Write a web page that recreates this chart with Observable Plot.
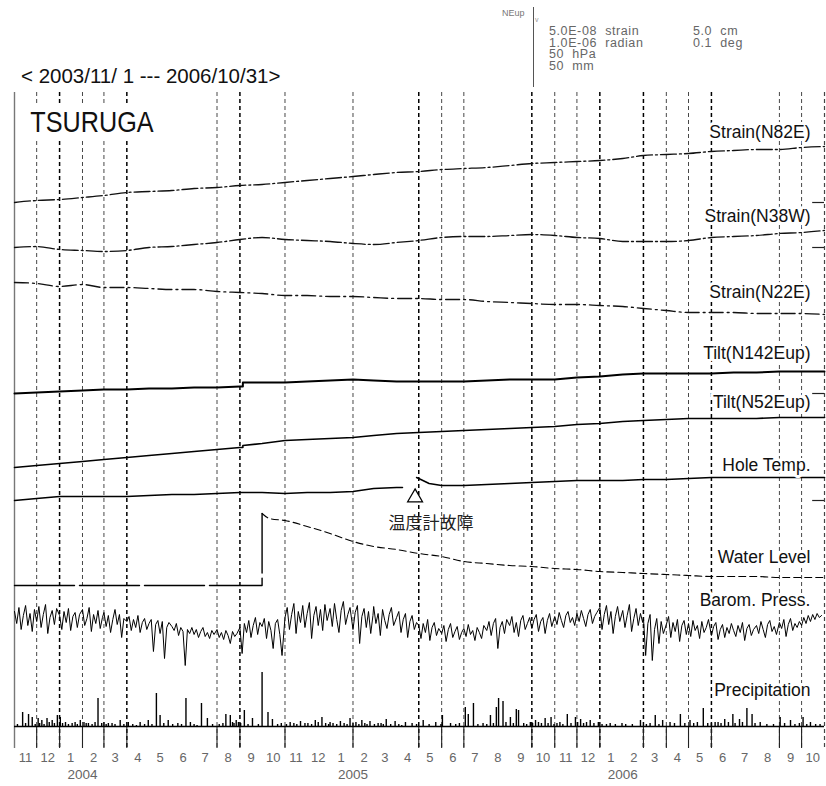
<!DOCTYPE html>
<html><head><meta charset="utf-8">
<script src="https://cdn.jsdelivr.net/npm/d3@7"></script>
<script src="https://cdn.jsdelivr.net/npm/@observablehq/plot@0.6"></script>
<style>
body{margin:0;background:#fff;}
#wrap{position:relative;width:826px;height:786px;overflow:hidden;font-family:"Liberation Sans",Arial,sans-serif;background:#fff;}
#chart svg{position:absolute;left:0;top:0;}
.h{position:absolute;white-space:pre;line-height:1;}
</style></head><body>
<div id="wrap"><div id="chart"></div>
<div class="h" style="left:21px;top:66px;font-size:20.5px;color:#111;">&lt; 2003/11/ 1 --- 2006/10/31&gt;</div>
<div class="h" style="left:27px;top:103px;padding:4px 6px 3px 4px;background:#fff;font-size:30px;color:#111;transform:scaleX(0.84);transform-origin:left top;">TSURUGA</div>
<div class="h" style="left:502px;top:9px;font-size:9px;color:#777;">NEup</div>
<div class="h" style="left:535px;top:16px;font-size:7px;color:#999;">v</div>
<div style="position:absolute;left:533px;top:7px;width:1px;height:80px;background:#555;"></div>
<div class="h" id="leg" style="left:549px;top:26px;font-size:12.5px;color:#666;line-height:11.5px;letter-spacing:0.6px;"></div>
<div class="h" id="leg2" style="left:693px;top:26px;font-size:12.5px;color:#666;line-height:11.5px;letter-spacing:0.6px;"></div>
</div>
<script>
// ---------------- data ----------------
const legendLeft = ["5.0E-08  strain", "1.0E-06  radian", "50  hPa", "50  mm"];
const legendRight = ["5.0  cm", "0.1  deg"];

// strain traces, relative readings at month starts (Nov 2003 ... Nov 2006), up = positive
const strainN82E = [0,2,3,5,7,10,11,12,14,15,17,18,20,22,24,26,28,30,31,33,34,35,37,39,40,41,42,44,47,48,49,51,52,53,53,55,56];
const strainN38W = [0,1,-2,-3,-4,-3,0,1,3,5,8,10,8,7,6,4,3,5,7,10,11,11,12,13,12,10,9,6,6,6,7,10,11,12,14,15,17];
const strainN22E = [0,-1,-4,-2,-5,-5,-6,-7,-7,-9,-10,-11,-13,-13,-14,-14,-15,-16,-16,-17,-17,-19,-20,-21,-22,-22,-23,-24,-26,-28,-30,-30,-30,-31,-31,-31,-32];

// tilt traces (monthly) with an offset on 2004-09-05
const tiltStepDate = "2004-09-05";
const tiltN142 = [0,1,2,3,4,4,5,5,6,6,7,11,11,12,13,14,13,12,12,12,12,13,14,14,14,16,17,19,20,20,20,20,21,21,22,22,22];
const tiltN142Step = [7, 11];
const tiltN52 = [0,2,4,6,8,10,12,14,16,18,20,24,27,28,29,30,32,34,35,36,37,38,39,40,41,43,44,46,47,48,49,49,49,49,50,50,50];
const tiltN52Step = [20, 22];

// hole temperature (thermometer failure in April 2005)
const holeDates = ["2003-11-01","2003-12-01","2004-01-01","2004-02-01","2004-03-01","2004-04-01","2004-05-01","2004-06-01","2004-07-01","2004-08-01","2004-09-01","2004-10-01","2004-11-01","2004-12-01","2005-01-01","2005-02-01","2005-03-01","2005-04-01","2005-04-09","2005-04-18","2005-04-28","2005-05-01","2005-05-15","2005-06-01","2005-07-01","2005-08-01","2005-09-01","2005-10-01","2005-11-01","2005-12-01","2006-01-01","2006-02-01","2006-03-01","2006-04-01","2006-05-01","2006-06-01","2006-07-01","2006-08-01","2006-09-01","2006-10-01","2006-11-01"];
const holeVals = [0,2,4,4,4,4,5,6,6,7,8,8,7,8,8,9,12,13,13,null,23,22,17,15,15,16,17,18,19,20,20,20,21,21,22,23,23,23,23,23,23];

// water level
const waterFlatDates = ["2003-11-01","2004-10-01","2004-10-01"];
const waterFlatVals = [0,0,72];
const waterDecayDates = ["2004-10-01","2004-10-11","2004-11-01","2004-12-01","2005-01-01","2005-02-01","2005-03-01","2005-04-01","2005-05-01","2005-06-01","2005-07-01","2005-08-01","2005-09-01","2005-10-01","2005-11-01","2005-12-01","2006-01-01","2006-02-01","2006-03-01","2006-04-01","2006-05-01","2006-06-01","2006-07-01","2006-08-01","2006-09-01","2006-10-01","2006-11-01"];
const waterDecayVals = [72,67,65,59,52,44,39,36,32,29,24,22,20,19,17,16,14,13,12,11,10,9,9,9,8,8,8];

// barometric pressure, hPa, 10 readings per month (3-day steps)
const baroHPa = [
1022,1010,1026,1004,1018,1028,1008,1020,1002,1024,
1012,1027,1006,1019,1029,1000,1016,1023,1009,1025,
1018,1004,1022,1011,1025,1003,1017,1021,1006,1019,
1024,1008,1015,1026,1002,1019,1010,1023,1005,1016,
1021,1007,1018,1001,1014,1024,1009,1019,996,1015,
1012,1017,1003,1014,1006,1018,1001,1011,1015,1004,
1010,1014,982,1009,1013,1000,1012,975,1006,1011,
1007,1003,1010,998,1006,1002,968,1004,1000,1006,
999,1004,996,1002,1006,997,1001,995,1003,999,
1004,996,1001,994,1003,998,990,1002,997,1000,
1006,980,1010,1001,1013,996,1008,1016,999,1011,
1007,1015,995,1012,1003,985,1010,1014,999,978,
1016,1026,1004,1019,1030,1000,1022,1011,1028,1006,
1020,1031,995,1018,1027,1008,1024,1003,1029,1013,
1025,1007,1030,1014,1001,1023,1032,1009,1019,1026,
1004,1021,1028,990,1017,1025,1006,1022,1000,1018,
1027,1010,1020,998,1024,1013,1005,1019,1026,1008,
1016,1022,1001,1014,1020,996,1012,1018,1004,1011,
1008,995,1010,1001,1014,993,1006,1011,998,1005,
1000,1008,992,1004,1010,996,1002,1007,994,1001,
1005,997,1009,999,1003,993,1006,1001,995,1008,
1003,1012,998,1010,1015,985,1006,1012,1000,1014,
1008,1017,1001,1011,997,1013,1018,1004,1010,1016,
1005,1014,1019,1002,1012,1016,1000,1013,1020,1007,
1017,1009,1021,1013,1006,1018,1022,1011,1016,1008,
1020,1012,1023,1015,1007,1019,1024,1010,1017,1021,
1026,1004,1019,1028,1009,1022,1000,1017,1027,1012,
1023,1006,1018,1029,1002,1015,1025,1008,1020,1011,
1016,978,1010,1019,973,1004,1015,990,1012,1000,
1009,1017,996,1011,1002,1014,992,1008,1013,999,
1010,997,1013,1003,1008,995,1012,1001,1006,1014,
998,1007,1011,994,1004,1009,996,1006,1000,1010,
1003,997,1008,1001,1011,993,1005,1009,998,1004,
1008,1000,1012,1004,996,1009,1013,1002,1007,999,
1011,1005,1014,997,1009,1015,1003,1010,1006,1012,
1008,1016,1010,1018,1012,1019,1014,1020,1016,1018];

// daily precipitation, mm (rainy days)
const precipDates = ["2003-11-12","2003-11-20","2003-11-25","2003-12-03","2003-12-08","2003-12-15","2003-12-22","2003-12-29","2004-01-02","2004-01-09","2004-01-18","2004-01-29","2004-02-03","2004-02-09","2004-02-22","2004-03-01","2004-03-07","2004-03-23","2004-04-03","2004-04-19","2004-04-30","2004-05-11","2004-05-16","2004-05-27","2004-06-09","2004-06-20","2004-06-26","2004-07-11","2004-07-19","2004-08-13","2004-08-19","2004-08-27","2004-09-07","2004-09-18","2004-10-01","2004-10-09","2004-10-15","2004-11-08","2004-11-22","2004-11-28","2004-12-12","2004-12-21","2005-01-01","2005-01-15","2005-01-28","2005-02-05","2005-02-13","2005-02-24","2005-03-07","2005-03-18","2005-03-30","2005-04-13","2005-04-22","2005-05-07","2005-05-24","2005-06-02","2005-06-13","2005-07-03","2005-07-07","2005-07-14","2005-08-06","2005-08-14","2005-08-17","2005-08-23","2005-09-02","2005-09-10","2005-09-13","2005-10-06","2005-10-19","2005-10-27","2005-11-18","2005-11-29","2005-12-06","2005-12-19","2005-12-30","2006-01-15","2006-01-31","2006-02-25","2006-03-17","2006-03-27","2006-04-06","2006-04-20","2006-05-03","2006-05-21","2006-06-06","2006-06-19","2006-06-30","2006-07-09","2006-07-19","2006-07-26","2006-08-06","2006-09-02","2006-09-16","2006-10-03","2006-10-13"];
const precipMm = [14,12,9,8,6,8,6,11,9,4,3,6,4,3,28,4,3,6,4,4,6,33,11,6,3,28,4,23,8,12,11,6,16,8,54,14,7,4,5,3,6,9,4,5,8,4,6,5,3,7,5,4,3,6,4,11,3,19,12,23,11,19,28,25,9,17,16,6,8,9,12,9,7,6,4,3,3,6,11,6,4,12,6,18,4,7,12,7,18,12,4,9,6,9,4];
// light-rain days, mm
const lightDates = ["2003-11-05","2003-11-16","2003-11-29","2003-12-05","2003-12-11","2003-12-18","2003-12-25","2004-01-05","2004-01-13","2004-01-22","2004-01-25","2004-02-06","2004-02-14","2004-02-18","2004-02-27","2004-03-04","2004-03-12","2004-03-16","2004-03-28","2004-04-09","2004-04-14","2004-04-25","2004-05-05","2004-05-21","2004-06-02","2004-06-14","2004-07-01","2004-07-05","2004-07-26","2004-08-04","2004-08-09","2004-08-22","2004-08-24","2004-08-30","2004-09-02","2004-09-12","2004-09-26","2004-10-22","2004-10-27","2004-11-03","2004-11-13","2004-11-17","2004-12-02","2004-12-07","2004-12-16","2004-12-26","2004-12-30","2005-01-05","2005-01-10","2005-01-20","2005-01-24","2005-02-01","2005-02-09","2005-02-17","2005-02-20","2005-03-02","2005-03-11","2005-03-14","2005-03-24","2005-04-04","2005-04-08","2005-04-28","2005-05-15","2005-05-31","2005-06-20","2005-06-25","2005-07-20","2005-07-27","2005-08-01","2005-08-10","2005-08-27","2005-09-06","2005-09-20","2005-09-24","2005-09-29","2005-10-02","2005-10-10","2005-10-14","2005-10-23","2005-10-31","2005-11-04","2005-11-08","2005-11-12","2005-11-23","2005-12-02","2005-12-10","2005-12-14","2005-12-24","2006-01-04","2006-01-10","2006-01-22","2006-02-05","2006-02-14","2006-03-05","2006-03-10","2006-03-22","2006-04-12","2006-04-26","2006-05-08","2006-05-13","2006-05-27","2006-06-01","2006-06-10","2006-06-14","2006-06-24","2006-07-03","2006-07-13","2006-07-30","2006-08-15","2006-08-24","2006-09-08","2006-09-22","2006-09-28","2006-10-08","2006-10-20","2006-10-26"];
const lightMm = [2,3,2,3,2,4,3,3,2,4,2,3,2,4,3,2,3,2,2,2,1,2,2,3,2,2,2,1,2,2,3,4,3,4,3,2,2,2,3,2,3,2,3,2,4,3,2,3,2,3,2,3,2,3,2,2,3,2,2,2,1,2,2,2,2,3,2,3,2,3,4,3,3,2,4,3,4,3,3,2,3,4,2,3,4,3,4,3,2,2,2,2,2,2,3,2,3,3,3,4,3,3,4,3,4,3,4,3,2,2,3,2,3,2,2,2];

// vertical guide lines
const gridThin = ["2003-12-01","2004-02-01","2004-03-01","2004-08-01","2004-11-01","2005-02-01","2005-06-01","2005-07-01","2005-11-01","2005-12-01","2006-04-01","2006-05-01","2006-09-01","2006-10-01"];
const gridBold = ["2004-01-01","2004-04-01","2004-09-01","2005-05-01","2005-10-01","2006-01-01","2006-03-01","2006-06-01"];
const yearLabels = ["2004","2005","2006"];

const failure = [{date: "2005-04-26", label: "温度計故障"}];

// ---------------- layout (display units = vertical position) ----------------
const lanes = {
  n82e:  {base: 546, gain: 1, label: "Strain(N82E)",  labelY: 616, refTick: true},
  n38w:  {base: 501, gain: 1, label: "Strain(N38W)",  labelY: 532, refTick: true},
  n22e:  {base: 466, gain: 1, label: "Strain(N22E)",  labelY: 456},
  n142:  {base: 355, gain: 1, label: "Tilt(N142Eup)", labelY: 395, refTick: true},
  n52:   {base: 281, gain: 1, label: "Tilt(N52Eup)",  labelY: 346},
  hole:  {base: 248, gain: 1, label: "Hole Temp.",    labelY: 283, refTick: true},
  water: {base: 163, gain: 1, label: "Water Level",   labelY: 191},
  baro:  {base: 128, gain: 1, ref: 1013, label: "Barom. Press.", labelY: 148},
  rain:  {base: 22,  gain: 1, label: "Precipitation", labelY: 58}
};

const D = s => new Date(s + "T00:00:00Z");
const t0 = D("2003-11-01"), t1 = D("2006-11-01");
const months = d3.utcMonth.range(t0, d3.utcDay.offset(t1, 1)); // 37 month starts
const pos = (lane, v) => v == null ? NaN : lane.base + lane.gain * v;

const monthly = (vals, lane) => vals.map((v, i) => ({date: months[i], y: pos(lane, v)}));
const stepped = (vals, step, lane) => {
  const a = monthly(vals, lane);
  return [...a.slice(0, 11), {date: D(tiltStepDate), y: pos(lane, step[0])}, {date: D(tiltStepDate), y: pos(lane, step[1])}, ...a.slice(11)];
};
const paired = (dates, vals, lane) => dates.map((d, i) => ({date: D(d), y: pos(lane, vals[i])}));

const baroData = baroHPa.map((v, k) => ({date: d3.utcDay.offset(months[Math.floor(k / 10)], (k % 10) * 3), y: pos(lanes.baro, v - lanes.baro.ref)}));
const rainData = [...precipDates.map((d, i) => [d, precipMm[i]]), ...lightDates.map((d, i) => [d, lightMm[i]])]
  .map(([d, mm]) => ({date: D(d), y1: lanes.rain.base, y2: pos(lanes.rain, mm)}));
const allGrid = [...gridThin, ...gridBold].map(D);
const monthLabelData = months.slice(0, 36).map(d => ({date: d3.utcDay.offset(d, 15), text: String(d.getUTCMonth() + 1)}));
const yearData = yearLabels.map(y => ({date: D(y + "-02-01"), text: y}));
const laneList = Object.values(lanes);
const refTicks = laneList.filter(l => l.refTick).map(l => l.base);

const ink = "#111";
const plot = Plot.plot({
  width: 826, height: 786,
  marginLeft: 14, marginRight: 2, marginTop: 92, marginBottom: 38,
  x: {type: "utc", domain: [t0, t1], axis: null},
  y: {domain: [0, 656], axis: null},
  style: {fontFamily: "'Liberation Sans', Arial, sans-serif", background: "transparent", overflow: "visible"},
  marks: [
    Plot.ruleX(gridThin.map(D), {stroke: "#333", strokeWidth: 0.9, strokeDasharray: "4,3"}),
    Plot.ruleX(gridBold.map(D), {stroke: "#000", strokeWidth: 1.5, strokeDasharray: "4,3"}),
    Plot.ruleX(allGrid, {x: d => d, y1: 0, y2: lanes.rain.base, stroke: "#222", strokeWidth: 1.1}),
    Plot.ruleX([t0], {stroke: "#777", strokeWidth: 1.4}),
    Plot.ruleX([t1], {stroke: "#444", strokeWidth: 1.2, strokeDasharray: "4,3"}),
    Plot.ruleY(refTicks, {x1: d3.utcDay.offset(t1, -16), x2: t1, stroke: "#222", strokeWidth: 1.2}),
    // strains
    Plot.line(monthly(strainN82E, lanes.n82e), {x: "date", y: "y", stroke: ink, strokeWidth: 1.3, strokeDasharray: "16,3,2,3", curve: "monotone-x"}),
    Plot.line(monthly(strainN38W, lanes.n38w), {x: "date", y: "y", stroke: ink, strokeWidth: 1.3, strokeDasharray: "16,3,2,3", curve: "monotone-x"}),
    Plot.line(monthly(strainN22E, lanes.n22e), {x: "date", y: "y", stroke: ink, strokeWidth: 1.3, strokeDasharray: "14,4,2,4", curve: "monotone-x"}),
    // tilts
    Plot.line(stepped(tiltN142, tiltN142Step, lanes.n142), {x: "date", y: "y", stroke: "#000", strokeWidth: 2}),
    Plot.line(stepped(tiltN52, tiltN52Step, lanes.n52), {x: "date", y: "y", stroke: "#000", strokeWidth: 1.6}),
    // hole temperature
    Plot.line(paired(holeDates, holeVals, lanes.hole), {x: "date", y: "y", stroke: "#000", strokeWidth: 1.5}),
    // water level
    Plot.line(paired(waterFlatDates, waterFlatVals, lanes.water), {x: "date", y: "y", stroke: "#000", strokeWidth: 1.4, strokeDasharray: "60,5"}),
    Plot.line(paired(waterDecayDates, waterDecayVals, lanes.water), {x: "date", y: "y", stroke: "#000", strokeWidth: 1.1, strokeDasharray: "7,4", curve: "monotone-x"}),
    // barometric pressure
    Plot.line(baroData, {x: "date", y: "y", stroke: "#000", strokeWidth: 1}),
    // precipitation
    Plot.ruleY([lanes.rain.base], {stroke: "#000", strokeWidth: 1.5}),
    Plot.ruleX(rainData, {x: "date", y1: "y1", y2: "y2", stroke: "#000", strokeWidth: 1.4}),
    // failure mark
    Plot.dot(failure, {x: d => D(d.date), y: pos(lanes.hole, 0) + 3, symbol: "triangle", r: 5.5, stroke: "#000", strokeWidth: 1.3, fill: "white"}),
    Plot.text(failure, {x: d => D(d.date), y: pos(lanes.hole, 0) - 23, text: "label", dx: 16, fontSize: 17, fill: "#222", fontFamily: "'Noto Sans CJK JP', sans-serif"}),
    // lane labels
    Plot.text(laneList, {y: "labelY", text: "label", frameAnchor: "right", textAnchor: "end", dx: -14, fontSize: 17.5, fill: "#111", stroke: "white", strokeWidth: 6}),
    // month & year labels
    Plot.text(monthLabelData, {x: "date", text: "text", frameAnchor: "bottom", dy: 13, fontSize: 13, fill: "#666", letterSpacing: "1px"}),
    Plot.text(yearData, {x: "date", text: "text", frameAnchor: "bottom", dy: 30, fontSize: 13.5, fill: "#666", style: "letter-spacing:2.5px"})
  ]
});
document.getElementById("chart").appendChild(plot);
document.getElementById("leg").textContent = legendLeft.join("\n");
document.getElementById("leg2").textContent = legendRight.join("\n");
</script>
</body></html>
